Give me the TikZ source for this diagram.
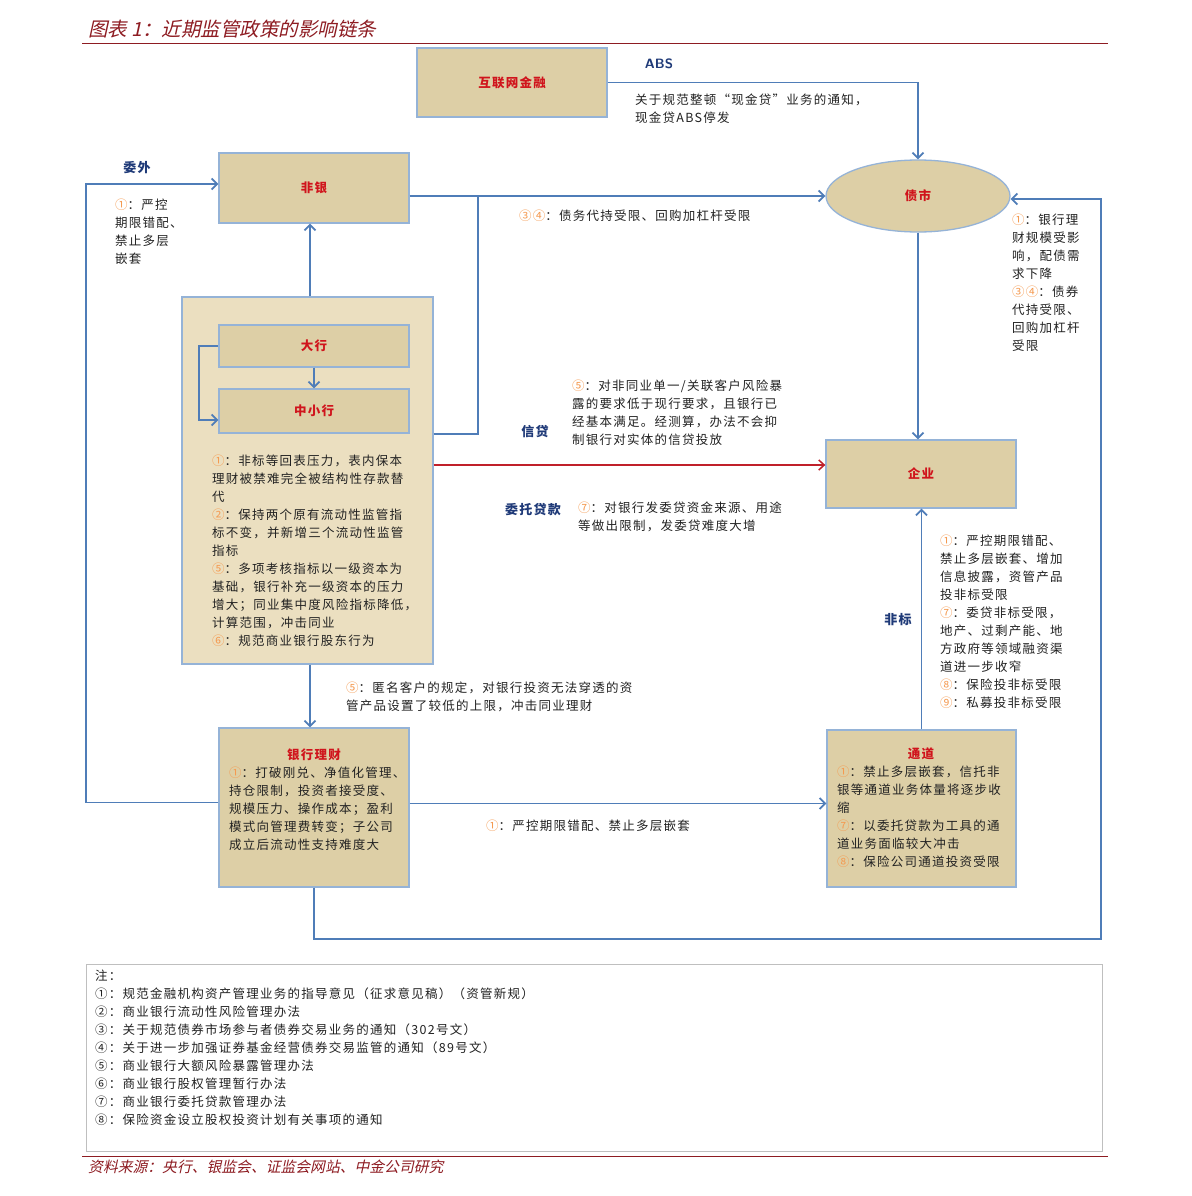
\documentclass[tikz,border=0pt]{standalone}
\usepackage{fontspec}
\setmainfont{Noto Sans CJK SC}[LetterSpace=10]
\newfontfamily\titlefont{Noto Sans CJK SC}[FakeSlant=0.22]
\usetikzlibrary{arrows.meta,shapes.geometric,calc}
\definecolor{tanfill}{HTML}{DDCFA6}
\definecolor{tanlight}{HTML}{EBDFC0}
\definecolor{bordblue}{HTML}{95B3D7}
\definecolor{lineblue}{HTML}{4F7DB8}
\definecolor{arrred}{HTML}{C0202A}
\definecolor{boxred}{HTML}{D0141C}
\definecolor{circ}{HTML}{F59A50}
\definecolor{navy}{HTML}{1F3A78}
\definecolor{titlered}{HTML}{8E1C22}
\definecolor{notegray}{HTML}{BFBFBF}
\definecolor{txtgray}{HTML}{222222}
\newcommand\cn[1]{\textcolor{circ}{#1}}
\begin{document}
\begin{tikzpicture}[x=1pt,y=-1pt,
  boxnode/.style={draw=bordblue,line width=1.3pt,fill=tanfill,inner sep=0pt,
     text=boxred,font=\fontsize{12.5}{18}\selectfont\bfseries},
  txt/.style={anchor=north west,inner sep=0pt,align=left,text=txtgray,
     font=\fontsize{12.5}{18}\selectfont},
  lab/.style={inner sep=0pt,text=navy,font=\fontsize{13}{18}\selectfont\bfseries},
  conn/.style={draw=lineblue,line width=1.8pt},
  arr/.style={-{Straight Barb[length=5.5pt,width=11pt]}},
  redconn/.style={draw=arrred,line width=1.5pt,-{Straight Barb[length=5.5pt,width=10pt]}}]
\useasboundingbox (0,0) rectangle (1191,1196);
\fill[white] (0,0) rectangle (1191,1196);

% title and rules
\node[anchor=west,inner sep=0pt,text=titlered,font=\fontsize{19.5}{22}\selectfont\titlefont] (title) at (88,29) {图表 1：近期监管政策的影响链条};
\draw[titlered,line width=1pt] (82,44) -- (1108,44);
\draw[titlered,line width=1pt] (82,1156) -- (1108,1156);
\node[anchor=west,inner sep=0pt,text=titlered,font=\fontsize{14.8}{16}\selectfont\titlefont] (source) at (88,1167) {资料来源：央行、银监会、证监会网站、中金公司研究};

% group box
\node[draw=bordblue,line width=1.3pt,fill=tanlight,minimum width=251pt,minimum height=367pt,inner sep=0pt] (group) at (307.5,480.5) {};

% boxes
\node[boxnode,minimum width=190pt,minimum height=69pt] (hulian) at (512,82.5) {互联网金融};
\node[boxnode,minimum width=190pt,minimum height=70pt] (feiyin) at (314,188) {非银};
\node[boxnode,ellipse,minimum width=184pt,minimum height=72pt] (zhaishi) at (918,196) {债市};
\node[boxnode,minimum width=190pt,minimum height=42pt] (daxing) at (314,346) {大行};
\node[boxnode,minimum width=190pt,minimum height=44pt] (zhongxiao) at (314,411) {中小行};
\node[boxnode,minimum width=190pt,minimum height=68pt] (qiye) at (921,474) {企业};
\node[boxnode,minimum width=190pt,minimum height=159pt] (licai) at (314,807.5) {};
\node[boxnode,minimum width=189pt,minimum height=157pt] (tongdao) at (921.5,808.5) {};

% box contents
\node[inner sep=0pt,text=boxred,font=\fontsize{12.5}{18}\selectfont\bfseries] (licaititle) at (314,755) {银行理财};
\node[txt] (licaitext) at (229,767) {\cn{①}：打破刚兑、净值化管理、\\持仓限制，投资者接受度、\\规模压力、操作成本；盈利\\模式向管理费转变；子公司\\成立后流动性支持难度大};
\node[inner sep=0pt,text=boxred,font=\fontsize{12.5}{18}\selectfont\bfseries] (tongdaotitle) at (921,754) {通道};
\node[txt] (tongdaotext) at (837,766) {\cn{①}：禁止多层嵌套，信托非\\银等通道业务体量将逐步收\\缩\\\cn{⑦}：以委托贷款为工具的通\\道业务面临较大冲击\\\cn{⑧}：保险公司通道投资受限};
\node[txt] (grouptext) at (212,455) {\cn{①}：非标等回表压力，表内保本\\理财被禁难完全被结构性存款替\\代\\\cn{②}：保持两个原有流动性监管指\\标不变，并新增三个流动性监管\\指标\\\cn{⑤}：多项考核指标以一级资本为\\基础，银行补充一级资本的压力\\增大；同业集中度风险指标降低，\\计算范围，冲击同业\\\cn{⑥}：规范商业银行股东行为};

% labels
\node[inner sep=0pt,text=navy,font=\fontsize{13.5}{16}\selectfont\sffamily\bfseries] (abs) at (659,64) {ABS};
\node[lab] (weiwai) at (137,168) {委外};
\node[lab] (xindai) at (535,432) {信贷};
\node[lab] (weituo) at (533,510) {委托贷款};
\node[lab] (feibiao) at (898,620) {非标};

% annotation texts
\node[txt] (t_abs) at (635,94) {关于规范整顿“现金贷”业务的通知，\\现金贷ABS停发};
\node[txt] (t_weiwai) at (115,199) {\cn{①}：严控\\期限错配、\\禁止多层\\嵌套};
\node[txt] (t_zhai) at (519,210) {\cn{③④}：债务代持受限、回购加杠杆受限};
\node[txt] (t_right) at (1012,214) {\cn{①}：银行理\\财规模受影\\响，配债需\\求下降\\\cn{③④}：债券\\代持受限、\\回购加杠杆\\受限};
\node[txt] (t_xindai) at (572,380) {\cn{⑤}：对非同业单一/关联客户风险暴\\露的要求低于现行要求，且银行已\\经基本满足。经测算，办法不会抑\\制银行对实体的信贷投放};
\node[txt] (t_weituo) at (578,502) {\cn{⑦}：对银行发委贷资金来源、用途\\等做出限制，发委贷难度大增};
\node[txt] (t_feibiao) at (940,535) {\cn{①}：严控期限错配、\\禁止多层嵌套、增加\\信息披露，资管产品\\投非标受限\\\cn{⑦}：委贷非标受限，\\地产、过剩产能、地\\方政府等领域融资渠\\道进一步收窄\\\cn{⑧}：保险投非标受限\\\cn{⑨}：私募投非标受限};
\node[txt] (t_licai) at (346,682) {\cn{⑤}：匿名客户的规定，对银行投资无法穿透的资\\管产品设置了较低的上限，冲击同业理财};
\node[txt] (t_tongdao) at (486,820) {\cn{①}：严控期限错配、禁止多层嵌套};

% helper coordinates
\coordinate (junc) at (478,196);
\coordinate (corner) at (1101,939);
\coordinate (gn) at ($(group.north)+(2.5,0)$);
\coordinate (gs) at ($(group.south)+(2.5,0)$);
\coordinate (qw) at ($(qiye.west)+(0,-9)$);
\coordinate (le) at ($(licai.east)+(0,-4)$);
\coordinate (lw) at ($(licai.west)+(0,-5)$);
\coordinate (fw) at ($(feiyin.west)+(0,-4)$);
\coordinate (zw) at ($(zhongxiao.west)+(0,9)$);
\coordinate (ze) at ($(zhaishi.east)+(0,3)$);

% connectors
\draw[conn,arr] (hulian.east) -| (zhaishi.north);
\draw[conn,arr] (feiyin.east |- zhaishi.west) -- (zhaishi.west);
\draw[conn] (zhongxiao.south -| group.east) -| (junc);
\draw[conn,arr] (gn) -- (gn |- feiyin.south);
\draw[conn,arr] (daxing.south) -- (zhongxiao.north);
\draw[conn,arr] (daxing.west) -- ++(-19,0) |- (zw);
\draw[redconn] (qw -| group.east) -- (qw);
\draw[conn,arr] (zhaishi.south) -- (zhaishi.south |- qiye.north);
\draw[conn,arr] (tongdao.north) -- (tongdao.north |- qiye.south);
\draw[conn,arr] (gs) -- (gs |- licai.north);
\draw[conn,arr] (le) -- (le -| tongdao.west);
\draw[conn,arr] (lw) -- ++(-132,0) |- (fw);
\draw[conn,arr] (licai.south) |- (corner) |- (ze);

% notes
\node[draw=notegray,line width=1pt,minimum width=1016pt,minimum height=187pt,inner sep=0pt] (notes) at (594,1057.5) {};
\node[txt] (notetext) at (95,970) {注：\\①：规范金融机构资产管理业务的指导意见（征求意见稿）（资管新规）\\②：商业银行流动性风险管理办法\\③：关于规范债券市场参与者债券交易业务的通知（302号文）\\④：关于进一步加强证券基金经营债券交易监管的通知（89号文）\\⑤：商业银行大额风险暴露管理办法\\⑥：商业银行股权管理暂行办法\\⑦：商业银行委托贷款管理办法\\⑧：保险资金设立股权投资计划有关事项的通知};
\end{tikzpicture}
\end{document}
